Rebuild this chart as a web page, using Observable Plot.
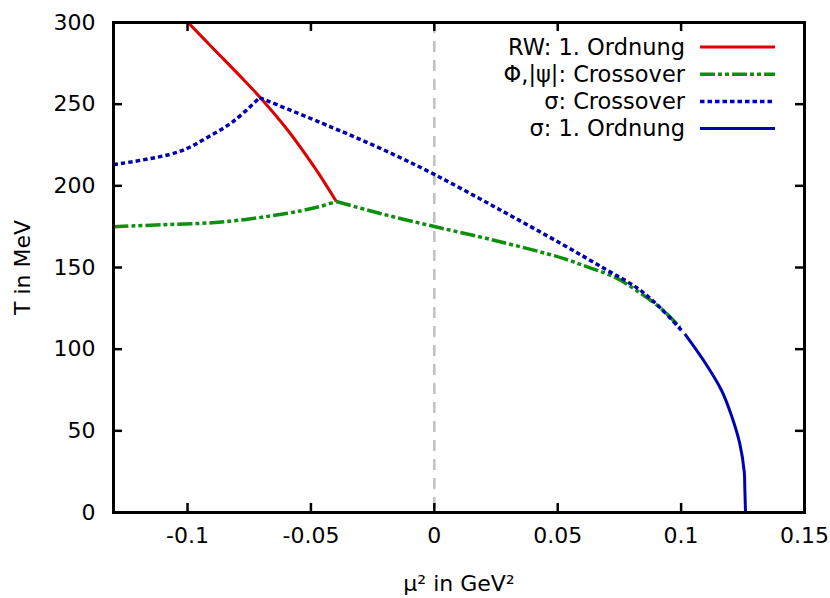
<!DOCTYPE html>
<html>
<head>
<meta charset="utf-8">
<script src="https://cdn.jsdelivr.net/npm/d3@7"></script>
<script src="https://cdn.jsdelivr.net/npm/@observablehq/plot@0.6"></script>
<style>
  html, body { margin: 0; padding: 0; background: white; }
  #chart { width: 830px; height: 598px; }
</style>
</head>
<body>
<div id="chart"></div>
<script>
// ---- data ----
const xTicks = [-0.1, -0.05, 0, 0.05, 0.1, 0.15];
const yTicks = [0, 50, 100, 150, 200, 250, 300];

// RW: 1. Ordnung
const rwMu2 = [-0.0998, -0.09, -0.077, -0.0702, -0.0593, -0.0486, -0.0397];
const rwT   = [300, 284.7, 264.5, 253.5, 233.9, 211.4, 190.4];

// Φ,|ψ|: Crossover
const phiMu2 = [-0.13, -0.11, -0.0864, -0.0607, -0.0472, -0.0397, -0.0215, 0, 0.0258, 0.0515, 0.0623, 0.0731, 0.0839, 0.092, 0.0995];
const phiT   = [175, 176.2, 177.8, 182.9, 187, 190.4, 182.9, 175.1, 166.1, 155.9, 150.2, 144.1, 133.9, 124.7, 113.5];

// σ: Crossover
const sigCrMu2 = [-0.13, -0.104, -0.0918, -0.081, -0.0708, -0.0418, -0.0215, 0, 0.0258, 0.0515, 0.0691, 0.0826, 0.092, 0.1002];
const sigCrT   = [213, 220.6, 229.8, 240, 254, 236, 222.7, 207, 186, 164.5, 149.2, 137, 124.7, 111.4];

// σ: 1. Ordnung
const sig1Mu2 = [0.1015, 0.1096, 0.1164, 0.1204, 0.1238, 0.1256, 0.1258, 0.1261];
const sig1T   = [109.4, 92, 74.7, 59.4, 42, 24.7, 15.5, 0];

const seriesNames = ["RW: 1. Ordnung", "Φ,|ψ|: Crossover", "σ: Crossover", "σ: 1. Ordnung"];

// ---- styles ----
const styles = [
  {stroke: "#e00000", strokeWidth: 3, dash: null},
  {stroke: "#0f8f0f", strokeWidth: 3.5, dash: "15,3,4,3,4,3"},
  {stroke: "#0000b3", strokeWidth: 3.5, dash: "4.5,3"},
  {stroke: "#0000b3", strokeWidth: 3, dash: null}
];

// split each series at its cusp (the maximum of T) so that the smooth curve keeps the kink
function toPts(xs, ys, splitAtMax) {
  const iMax = splitAtMax ? ys.indexOf(Math.max(...ys)) : -1;
  const pts = [];
  xs.forEach((x, i) => {
    if (i === iMax) {
      pts.push({x, y: ys[i], seg: 0});
      pts.push({x, y: ys[i], seg: 1});
    } else {
      pts.push({x, y: ys[i], seg: (iMax >= 0 && i > iMax) ? 1 : 0});
    }
  });
  return pts;
}
const series = [
  toPts(rwMu2, rwT, false),
  toPts(phiMu2, phiT, true),
  toPts(sigCrMu2, sigCrT, true),
  toPts(sig1Mu2, sig1T, false)
];

const W = 830, H = 598, mL = 113, mR = 26, mT = 22, mB = 86;
const plotW = W - mL - mR, plotH = H - mT - mB;
const tickLen = 9;

const lineMarks = series.map((data, i) => Plot.line(data, {
  x: "x", y: "y", z: "seg",
  curve: "catmull-rom",
  stroke: styles[i].stroke,
  strokeWidth: styles[i].strokeWidth,
  strokeDasharray: styles[i].dash || undefined,
  strokeLinecap: "butt",
  strokeLinejoin: "round",
  clip: true
}));

const chart = Plot.plot({
  width: W, height: H,
  marginLeft: mL, marginRight: mR, marginTop: mT, marginBottom: mB,
  x: {domain: [-0.13, 0.15]},
  y: {domain: [0, 300]},
  style: {fontFamily: "'DejaVu Sans', sans-serif", fontSize: "22px", color: "black", background: "white", overflow: "visible"},
  marks: [
    Plot.ruleX([0], {stroke: "#c0c0c0", strokeWidth: 2.5, strokeDasharray: "11,8"}),
    ...lineMarks,
    Plot.frame({stroke: "black", strokeWidth: 3}),
    Plot.tickX(xTicks, {x: d => d, insetTop: plotH - tickLen, strokeWidth: 2.5}),
    Plot.tickX(xTicks, {x: d => d, insetBottom: plotH - tickLen, strokeWidth: 2.5}),
    Plot.tickY(yTicks, {y: d => d, insetRight: plotW - tickLen, strokeWidth: 2.5}),
    Plot.tickY(yTicks, {y: d => d, insetLeft: plotW - tickLen, strokeWidth: 2.5}),
    Plot.axisX(xTicks, {tickSize: 0, tickPadding: 15, tickFormat: d => String(d),
      label: "μ² in GeV²", labelAnchor: "center", labelArrow: "none", labelOffset: 78}),
    Plot.axisY(yTicks, {tickSize: 0, tickPadding: 18, tickFormat: d => String(d),
      label: "T in MeV", labelAnchor: "center", labelArrow: "none", labelOffset: 99})
  ]
});

const svg = d3.select(chart);

// ---- legend (inside top-right of the frame) ----
const lg = svg.append("g").attr("font-family", "'DejaVu Sans', sans-serif").attr("font-size", 22.5);
const rowY0 = 47, rowStep = 27.2;
seriesNames.forEach((name, i) => {
  const y = rowY0 + i * rowStep;
  lg.append("text").attr("x", 685).attr("y", y).attr("dy", "0.35em")
    .attr("text-anchor", "end").attr("fill", "black").text(name);
  const ln = lg.append("line").attr("x1", 700).attr("x2", 775).attr("y1", y).attr("y2", y)
    .attr("stroke", styles[i].stroke).attr("stroke-width", styles[i].strokeWidth);
  if (styles[i].dash) ln.attr("stroke-dasharray", styles[i].dash);
});

document.getElementById("chart").appendChild(chart);
</script>
</body>
</html>
